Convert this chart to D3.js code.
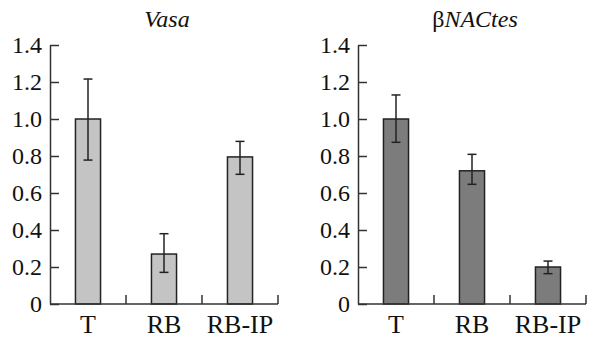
<html>
<head>
<script src="https://d3js.org/d3.v7.min.js"></script>
</head>
<body style="margin:0; background:#fff">
<svg id="chart" width="589" height="339"></svg>
<script>
// data
var categories = ["T", "RB", "RB-IP"];
var vasaValues = [1.0, 0.27, 0.795];
var vasaErrLow = [0.778, 0.171, 0.701];
var vasaErrHigh = [1.216, 0.38, 0.879];
var nacValues = [1.0, 0.72, 0.2];
var nacErrLow = [0.874, 0.647, 0.164];
var nacErrHigh = [1.13, 0.809, 0.232];
var yTicks = [0, 0.2, 0.4, 0.6, 0.8, 1.0, 1.2, 1.4];

var serif = "Liberation Serif";
var svg = d3.select("#chart");

var y = d3.scaleLinear().domain([0, 1.4]).range([304, 45]);

function panel(left, right, titleParts, values, lo, hi, fill) {
  var x = d3.scaleBand()
    .domain(categories)
    .range([left, right])
    .paddingInner(0.67)
    .paddingOuter(0.335);
  var step = x.step();
  var g = svg.append("g");

  // bars
  g.selectAll("rect.bar")
    .data(values)
    .enter().append("rect")
      .attr("class", "bar")
      .attr("x", function(d, i) { return x(categories[i]); })
      .attr("y", function(d) { return y(d); })
      .attr("width", x.bandwidth())
      .attr("height", function(d) { return y(0) - y(d); })
      .attr("fill", fill)
      .attr("stroke", "#222")
      .attr("stroke-width", 1.5);

  // error bars
  var cx = function(i) { return x(categories[i]) + x.bandwidth() / 2; };
  values.forEach(function(d, i) {
    g.append("line")
      .attr("x1", cx(i)).attr("x2", cx(i))
      .attr("y1", y(lo[i])).attr("y2", y(hi[i]))
      .attr("stroke", "#222").attr("stroke-width", 1.5);
    [lo[i], hi[i]].forEach(function(v) {
      g.append("line")
        .attr("x1", cx(i) - 4.5).attr("x2", cx(i) + 4.5)
        .attr("y1", y(v)).attr("y2", y(v))
        .attr("stroke", "#222").attr("stroke-width", 1.5);
    });
  });

  // y axis, ticks pointing inward
  var ya = g.append("g")
    .attr("transform", "translate(" + left + ",0)")
    .call(d3.axisLeft(y)
      .tickValues(yTicks)
      .tickSizeInner(-9)
      .tickSizeOuter(0)
      .tickPadding(8)
      .tickFormat(function(d) { return d === 0 ? "0" : d3.format(".1f")(d); }));
  ya.attr("font-family", null).attr("font-size", null);
  ya.select(".domain").attr("stroke", "#333").attr("stroke-width", 1.5);
  ya.selectAll(".tick line").attr("stroke", "#333").attr("stroke-width", 1.5);
  ya.selectAll(".tick text")
    .style("font-family", serif)
    .style("font-size", "24px")
    .attr("fill", "#111")
    .attr("dy", "0.33em");

  // x axis: line plus upward ticks between categories
  g.append("line")
    .attr("x1", left).attr("x2", right)
    .attr("y1", y(0)).attr("y2", y(0))
    .attr("stroke", "#333").attr("stroke-width", 1.5);
  categories.forEach(function(c) {
    var tx = x(c) + x.bandwidth() / 2 + step / 2;
    g.append("line")
      .attr("x1", tx).attr("x2", tx)
      .attr("y1", y(0)).attr("y2", y(0) - 9)
      .attr("stroke", "#333").attr("stroke-width", 1.5);
  });
  g.selectAll("text.cat")
    .data(categories)
    .enter().append("text")
      .attr("class", "cat")
      .attr("x", function(c) { return x(c) + x.bandwidth() / 2; })
      .attr("y", 333)
      .attr("text-anchor", "middle")
      .attr("fill", "#111")
      .style("font-family", serif)
      .style("font-size", "26px")
      .text(function(c) { return c; });

  // title
  var t = g.append("text")
    .attr("x", (left + right) / 2 + 3)
    .attr("y", 27)
    .attr("text-anchor", "middle")
    .attr("fill", "#111")
    .style("font-family", serif)
    .style("font-size", "24px");
  titleParts.forEach(function(p) {
    t.append("tspan")
      .style("font-style", p.italic ? "italic" : "normal")
      .text(p.text);
  });
}

panel(50, 278, [{text: "Vasa", italic: true}],
  vasaValues, vasaErrLow, vasaErrHigh, "#c4c4c4");
panel(358, 586, [{text: "\u03B2", italic: false}, {text: "NACtes", italic: true}],
  nacValues, nacErrLow, nacErrHigh, "#7c7c7c");
</script>
</body>
</html>
